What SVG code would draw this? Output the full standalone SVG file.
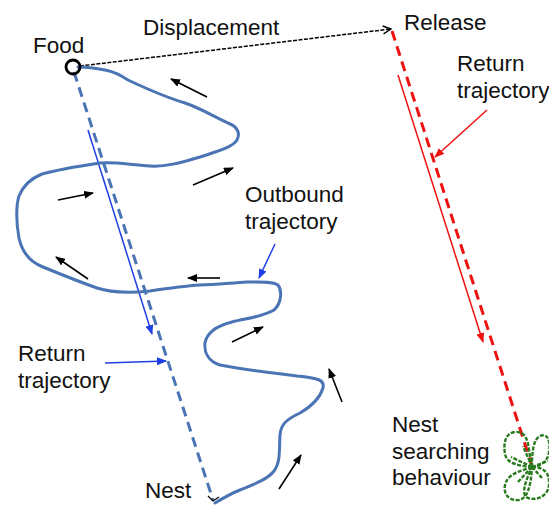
<svg xmlns="http://www.w3.org/2000/svg" width="549" height="506" viewBox="0 0 549 506">
  <style>
    .lbl { font-family: "Liberation Sans", Arial, sans-serif; font-size: 22.5px; fill: #111; }
    .dir { fill: none; stroke: #000; stroke-width: 1.6; marker-end: url(#headK); }
    .trail { fill: none; stroke: #4a74b4; stroke-width: 3; stroke-linejoin: round; stroke-linecap: round; }
    .search { fill: none; stroke: #2a7a1f; stroke-width: 2.4; stroke-dasharray: 4,1.5; stroke-linejoin: round; }
  </style>
  <defs>
    <marker id="headK" markerUnits="userSpaceOnUse" markerWidth="10" markerHeight="8" refX="9" refY="4" orient="auto">
      <path d="M0,0 L10,4 L0,8 z" fill="#000"/>
    </marker>
    <marker id="headOpen" markerUnits="userSpaceOnUse" markerWidth="10" markerHeight="10" refX="9" refY="5" orient="auto">
      <path d="M1,1 L9,5 L1,9" fill="none" stroke="#000" stroke-width="1.4"/>
    </marker>
    <marker id="headB" markerUnits="userSpaceOnUse" markerWidth="10" markerHeight="8" refX="9" refY="4" orient="auto">
      <path d="M0,0 L10,4 L0,8 z" fill="#1f3fe6"/>
    </marker>
    <marker id="headR" markerUnits="userSpaceOnUse" markerWidth="10" markerHeight="8" refX="9" refY="4" orient="auto">
      <path d="M0,0 L10,4 L0,8 z" fill="#ee1111"/>
    </marker>
  </defs>

  <!-- connectors -->
  <g id="connectors">
    <!-- displacement -->
    <line x1="80" y1="66" x2="391" y2="29" stroke="#000" stroke-width="1.5" stroke-dasharray="4,1.5" marker-end="url(#headOpen)"/>
    <!-- straight home vector from food to nest -->
    <line x1="74" y1="72" x2="213" y2="500" stroke="#4a74b4" stroke-width="3" stroke-dasharray="10,6"/>
    <path d="M208,496 L213,501 L219,497" fill="none" stroke="#000" stroke-width="1.2"/>
    <!-- direction of return, blue -->
    <line x1="88" y1="130" x2="152" y2="334" stroke="#1f3fe6" stroke-width="1.5" marker-end="url(#headB)"/>
    <!-- displaced return vector -->
    <line x1="392" y1="31" x2="532" y2="466" stroke="#ee1111" stroke-width="3" stroke-dasharray="10,6"/>
    <line x1="398" y1="75" x2="483" y2="342" stroke="#ee1111" stroke-width="1.5" marker-end="url(#headR)"/>
    <!-- label pointers -->
    <line x1="487" y1="110" x2="435" y2="157" stroke="#ee1111" stroke-width="1.5" marker-end="url(#headR)"/>
    <line x1="275" y1="244" x2="259" y2="278" stroke="#1f3fe6" stroke-width="1.5" marker-end="url(#headB)"/>
    <line x1="105" y1="363" x2="166" y2="361" stroke="#1f3fe6" stroke-width="1.5" marker-end="url(#headB)"/>
    <!-- heading markers along the outbound path -->
    <line class="dir" x1="207" y1="97" x2="171" y2="79"/>
    <line class="dir" x1="193" y1="185" x2="233" y2="168"/>
    <line class="dir" x1="58" y1="200" x2="93" y2="193"/>
    <line class="dir" x1="88" y1="279" x2="56" y2="257"/>
    <line class="dir" x1="220" y1="278" x2="188" y2="278"/>
    <line class="dir" x1="232" y1="342" x2="263" y2="327"/>
    <line class="dir" x1="342" y1="402" x2="329" y2="369"/>
    <line class="dir" x1="279" y1="489" x2="301" y2="455"/>
  </g>

  <!-- outbound foraging path, nest to food -->
  <g id="outbound">
    <path class="trail" d="M215,503 C225,497 232,493 240,490 C255,484 268,479 274,471 C281,462 279,448 280,435 C281,425 285,420 300,413 C312,406 320,398 323,388 C325,380 318,378 297,376 C275,373 245,370 220,365 C208,361 204,352 205,343 C207,332 216,326 232,322 C248,318 262,317 274,310 C282,303 282,290 278,285 C272,281 260,282 247,282 C230,283 215,285 200,285 C185,286 170,288 150,291 C130,293 112,293 97,288 C80,282 60,274 43,267 C30,262 22,252 19,238 C16,222 16,205 19,196 C23,186 32,178 42,174 C60,169 80,166 100,163 C118,162 130,165 150,166 C165,167 180,163 200,157 C215,152 232,148 237,140 C241,132 236,126 228,123 C215,117 200,108 185,103 C165,97 145,88 128,80 C120,75 115,72 105,70 C95,68 88,67 78,67"/>
  </g>

  <!-- food site -->
  <g id="food">
    <circle cx="73" cy="67" r="7" fill="none" stroke="#000" stroke-width="2.8"/>
    <text class="lbl" x="33" y="53">Food</text>
  </g>

  <g id="displacement-label">
    <text class="lbl" x="143" y="35">Displacement</text>
  </g>

  <g id="release">
    <text class="lbl" x="404" y="30">Release</text>
  </g>

  <g id="return-right">
    <text class="lbl" x="457" y="71">Return</text>
    <text class="lbl" x="457" y="98">trajectory</text>
  </g>

  <g id="outbound-label">
    <text class="lbl" x="245" y="202">Outbound</text>
    <text class="lbl" x="245" y="229">trajectory</text>
  </g>

  <g id="return-left">
    <text class="lbl" x="18" y="361">Return</text>
    <text class="lbl" x="18" y="388">trajectory</text>
  </g>

  <g id="nest">
    <text class="lbl" x="145" y="498">Nest</text>
  </g>

  <!-- search loops around the fictive nest -->
  <g id="nest-search">
    <path class="search" d="M532,467 C520,466 507,464 505,454 C503,442 506,433 515,432 C525,431 528,440 529,450 L532,467"/>
    <path class="search" d="M532,467 C532,452 533,440 540,436 C547,433 551,440 549,452 C548,461 541,466 532,467"/>
    <path class="search" d="M532,467 C543,467 550,472 549,485 C548,496 537,501 528,498 C520,495 526,480 532,467"/>
    <path class="search" d="M532,467 C521,471 508,473 505,485 C503,495 510,501 519,500 C528,498 531,485 532,467"/>
    <path class="search" d="M532,467 L511,457 M532,467 L548,461 M532,467 L517,483 M532,467 L523,446 M532,467 L542,478"/>
    <text class="lbl" x="392" y="432">Nest</text>
    <text class="lbl" x="392" y="459">searching</text>
    <text class="lbl" x="392" y="485">behaviour</text>
  </g>
</svg>
